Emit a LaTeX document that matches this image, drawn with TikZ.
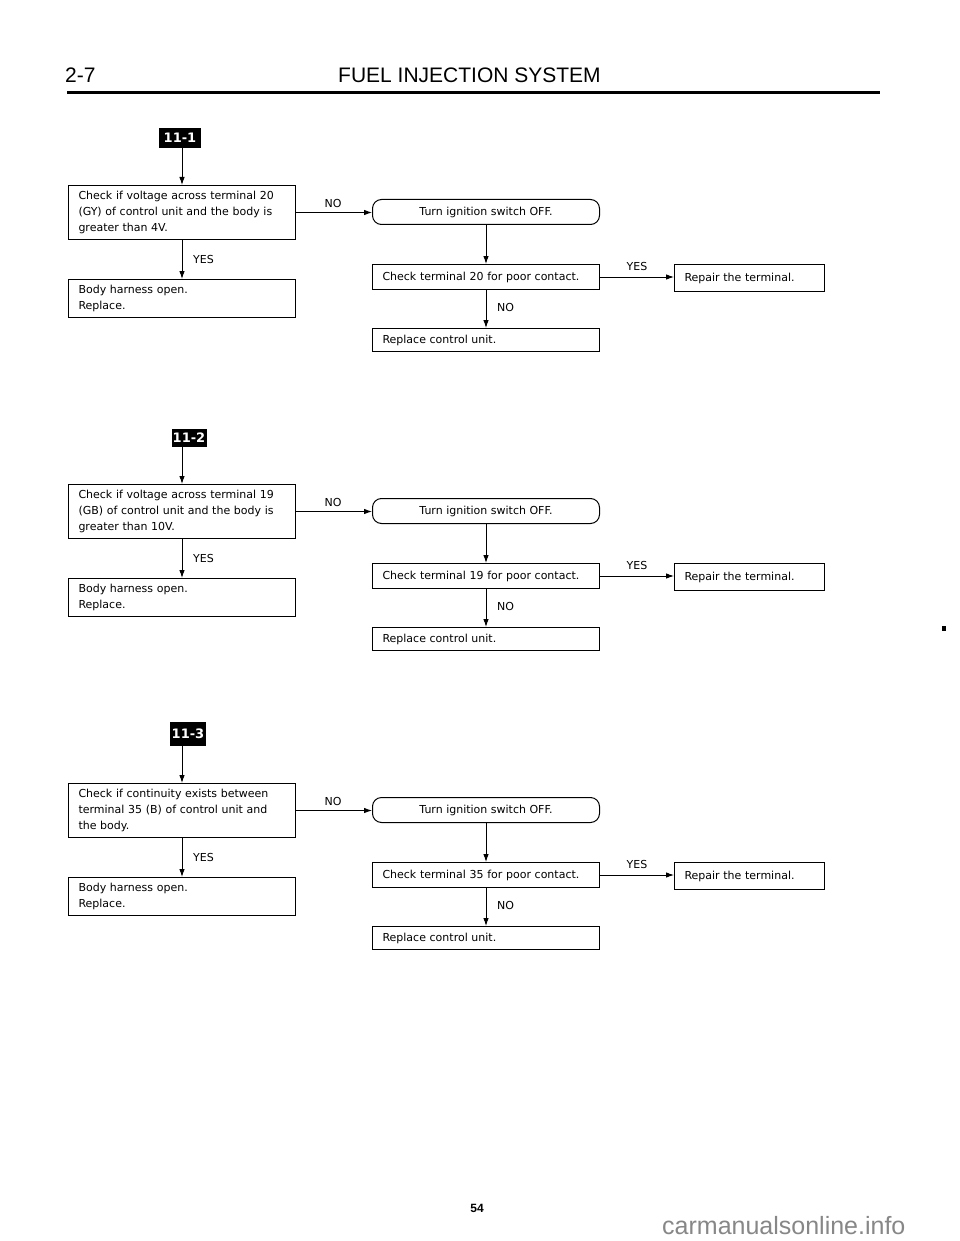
\documentclass[tikz,border=0pt]{standalone}
\usepackage{fontspec}
\setmainfont{DejaVu Sans}
\newfontfamily\boxfont{DejaVu Sans}
\newfontfamily\headfont{Liberation Sans}
\usetikzlibrary{arrows.meta}
\tikzset{
  fbox/.style={draw, line width=1pt, anchor=north west, inner xsep=10pt, inner ysep=0pt,
    align=left, font=\boxfont\fontsize{11}{16}\selectfont},
  turnbox/.style={draw, line width=1pt, rounded corners=9pt, anchor=north west,
    minimum width=227pt, minimum height=25pt, inner sep=0pt,
    font=\boxfont\fontsize{11}{16}\selectfont},
  badge/.style={fill=black, text=white, anchor=south, inner sep=0pt,
    font=\boxfont\bfseries\fontsize{13}{13}\selectfont},
  arr/.style={line width=0.9pt, -{Latex[length=8pt,width=5.5pt]}},
  lbl/.style={font=\boxfont\fontsize{11}{11}\selectfont, inner sep=0pt},
  headtxt/.style={font=\headfont\fontsize{21}{21}\selectfont, inner sep=0pt, anchor=base west},
}
% #1 id, #2 offset, #3 badge label, #4 badge x, #5 badge w, #6 badge h, #7 question, #8 check text
\newcommand{\fisec}[8]{%
  \begin{scope}[yshift=-#2pt]
    \node[badge, minimum width=#5pt, minimum height=#6pt] (b#1) at (#4,148) {#3};
    \node[fbox, text width=207pt, minimum height=54pt] (q#1) at (68,185) {#7};
    \node[fbox, text width=207pt, minimum height=38pt] (h#1) at (68,279) {Body harness open.\\Replace.};
    \node[turnbox] (t#1) at (372,199) {Turn ignition switch OFF.};
    \node[fbox, text width=207pt, minimum height=25pt] (c#1) at (372,264) {#8};
    \node[fbox, text width=207pt, minimum height=23pt] (r#1) at (372,328) {Replace control unit.};
    \node[fbox, text width=130pt, minimum height=27pt] (p#1) at (674,264) {Repair the terminal.};
    \draw[arr] (b#1.south -| q#1.north) -- (q#1.north);
    \draw[arr] (q#1.south) -- (h#1.north);
    \draw[arr] (q#1.east) -- (q#1.east -| t#1.west);
    \draw[arr] (t#1.south) -- (c#1.north);
    \draw[arr] (c#1.south) -- (r#1.north);
    \draw[arr] (c#1.east) -- (c#1.east -| p#1.west);
    \node[lbl, anchor=west] (ly#1) at (193,259) {YES};
    \node[lbl] (ln#1) at (333,203) {NO};
    \node[lbl] (lyr#1) at (637,266) {YES};
    \node[lbl, anchor=west] (lnr#1) at (497,307) {NO};
  \end{scope}%
}
\begin{document}
\begin{tikzpicture}[x=1pt, y=-1pt]
  \useasboundingbox[fill=white] (0,0) rectangle (960,1241);
  % header
  \node[headtxt] (pg) at (65,83) {2-7};
  \node[headtxt] (title) at (338,83) {FUEL INJECTION SYSTEM};
  \coordinate (rl) at (67,93);
  \coordinate (rr) at (880,93);
  \draw[line width=3pt] (rl) -- (rr);

  \fisec{1}{0}{11-1}{180}{42}{20}{Check if voltage across terminal 20\\(GY) of control unit and the body is\\greater than 4V.}{Check terminal 20 for poor contact.}
  \fisec{2}{299}{11-2}{189}{35}{18}{Check if voltage across terminal 19\\(GB) of control unit and the body is\\greater than 10V.}{Check terminal 19 for poor contact.}
  \fisec{3}{598}{11-3}{188}{36}{24}{Check if continuity exists between\\terminal 35 (B) of control unit and\\the body.}{Check terminal 35 for poor contact.}

  % stray mark
  \fill (942,626) rectangle (946,631);

  % footer
  \node[font=\headfont\bfseries\fontsize{12}{12}\selectfont, inner sep=0pt] (num) at (477,1208) {54};
  \node[font=\headfont\fontsize{25}{25}\selectfont, text=black!47, inner sep=0pt, anchor=base west] (wm) at (662,1234) {carmanualsonline.info};
\end{tikzpicture}
\end{document}
